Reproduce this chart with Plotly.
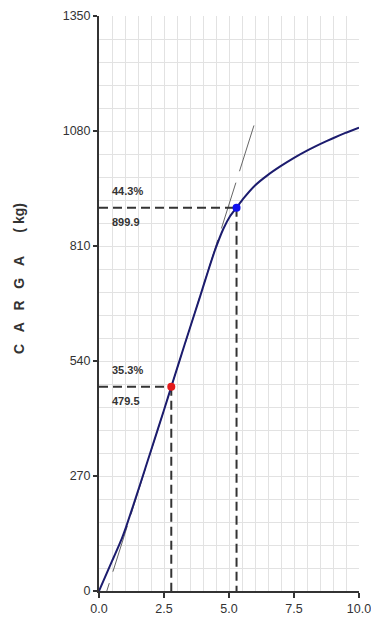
import plotly.graph_objects as go

# ---- data ----
curve_x = [0, 0.5, 0.87, 1.04, 1.58, 2.0, 2.5, 2.78, 3.3, 3.88, 4.2, 4.46, 4.78, 5.04, 5.29,
           5.55, 6.0, 6.5, 7.0, 7.5, 8.0, 8.5, 9.0, 9.5, 10.0]
curve_y = [0, 70, 122, 150, 250, 330, 425, 479.5, 580, 690, 752, 800, 850, 880, 899.9,
           921, 952, 977, 998, 1017, 1034, 1049, 1063, 1076, 1088]

tangent_x = [5.96, 0.3]
tangent_y = [1093, 0]

point_x = [2.78, 5.29]
point_y = [479.5, 899.9]
point_colors = ["#e31a1c", "#1010ee"]
point_pct = ["35.3%", "44.3%"]
point_val = ["479.5", "899.9"]

x_ticks = [0.0, 2.5, 5.0, 7.5, 10.0]
y_ticks = [0, 270, 540, 810, 1080, 1350]

NB = "\u00a0"
y_title = (NB * 3).join(["C", "A", "R", "G", "A"]) + NB * 6 + "(" + NB + "kg)"

fig = go.Figure()

# tangent / offset line
fig.add_trace(go.Scatter(x=tangent_x, y=tangent_y, mode="lines",
                         line=dict(color="#555555", width=0.9, dash="48px,12px"),
                         hoverinfo="skip", showlegend=False))

# dashed guide lines
for px, py in zip(point_x, point_y):
    fig.add_trace(go.Scatter(x=[0, px], y=[py, py], mode="lines",
                             line=dict(color="#333333", width=2, dash="9px,5px"),
                             showlegend=False, hoverinfo="skip"))
    fig.add_trace(go.Scatter(x=[px, px], y=[py, 0], mode="lines",
                             line=dict(color="#333333", width=2, dash="9px,5px"),
                             showlegend=False, hoverinfo="skip"))

# main curve
fig.add_trace(go.Scatter(x=curve_x, y=curve_y, mode="lines",
                         line=dict(color="#1c1c6e", width=2, shape="spline", smoothing=0.5),
                         showlegend=False))

# points
fig.add_trace(go.Scatter(x=point_x, y=point_y, mode="markers",
                         marker=dict(color=point_colors, size=8),
                         showlegend=False))

W, H = 371, 621
ML, MR, MT, MB = 99, 12, 16, 30
pw, ph = W - ML - MR, H - MT - MB

lab_font = dict(family="Liberation Sans, Arial", size=11, color="#333333", weight="bold")
annotations = []
for px, py, pct, val in zip(point_x, point_y, point_pct, point_val):
    annotations.append(dict(x=0.42, y=py, xref="x", yref="y", text=pct, showarrow=False,
                            xanchor="left", yanchor="middle", yshift=16.5, font=lab_font))
    annotations.append(dict(x=0.42, y=py, xref="x", yref="y", text=val, showarrow=False,
                            xanchor="left", yanchor="middle", yshift=-14.5, font=lab_font))

annotations.append(dict(x=(18.5 - ML) / pw, y=(H - MB - 278.5) / ph, xref="paper", yref="paper",
                        text=y_title, showarrow=False, textangle=-90,
                        xanchor="center", yanchor="middle",
                        font=dict(family="Liberation Sans, Arial", size=14, color="#333333", weight="bold")))

fig.update_layout(
    width=W, height=H,
    margin=dict(l=ML, r=MR, t=MT, b=MB, autoexpand=False),
    paper_bgcolor="white", plot_bgcolor="white",
    annotations=annotations,
    font=dict(family="Liberation Sans, Arial", size=12.5, color="#333333"),
)

fig.update_xaxes(range=[0, 10], tickvals=x_ticks, ticktext=[f"{v:.1f}" for v in x_ticks],
                 ticklabeloverflow="allow", automargin=False,
                 showgrid=True, gridcolor="#e2e2e2", gridwidth=1,
                 minor=dict(dtick=0.5, showgrid=True, gridcolor="#e2e2e2", gridwidth=1),
                 showline=True, linecolor="#333333", linewidth=2,
                 ticks="outside", ticklen=5, tickwidth=1.5, tickcolor="#333333",
                 zeroline=False, fixedrange=True)
fig.update_yaxes(range=[0, 1350], tickvals=y_ticks, ticktext=[str(v) for v in y_ticks],
                 ticklabeloverflow="allow", automargin=False,
                 showgrid=True, gridcolor="#e2e2e2", gridwidth=1,
                 minor=dict(dtick=54, showgrid=True, gridcolor="#e2e2e2", gridwidth=1),
                 showline=True, linecolor="#333333", linewidth=2,
                 ticks="outside", ticklen=4, tickwidth=1.5, tickcolor="#333333",
                 zeroline=False, fixedrange=True)

fig.write_html("out.html")
